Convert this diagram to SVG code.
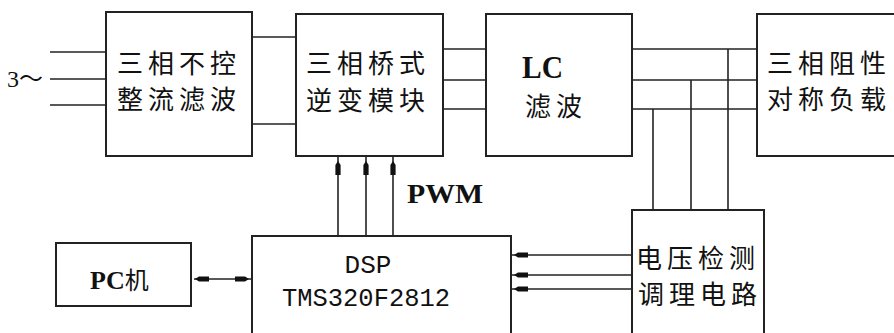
<svg xmlns="http://www.w3.org/2000/svg" xmlns:xlink="http://www.w3.org/1999/xlink" width="894" height="333" viewBox="0 0 894 333">
<style>
.box{fill:#fff;stroke:#222;stroke-width:2}
.ln{stroke:#222;stroke-width:1.6;fill:none}
.cjk{font-family:"Noto Sans CJK SC",sans-serif;font-size:26px;fill:#111;text-anchor:middle;letter-spacing:5px}
.bs{font-family:"Liberation Serif",serif;font-weight:bold;fill:#111}
.mono{font-family:"Liberation Mono",monospace;font-size:26px;fill:#111;text-anchor:middle}
.ah{fill:#111}
</style>
<defs>
<path id="ah" d="M0,0 L-4,-2.6 L-14,-2.6 L-14,2.6 L-4,2.6 Z"/>
</defs>
<g id="connectors">
<line class="ln" x1="50" y1="52" x2="106" y2="52"/>
<line class="ln" x1="50" y1="79" x2="106" y2="79"/>
<line class="ln" x1="50" y1="105" x2="106" y2="105"/>
<line class="ln" x1="252" y1="37" x2="296" y2="37"/>
<line class="ln" x1="252" y1="124" x2="296" y2="124"/>
<line class="ln" x1="443" y1="49" x2="486" y2="49"/>
<line class="ln" x1="443" y1="80" x2="486" y2="80"/>
<line class="ln" x1="443" y1="109" x2="486" y2="109"/>
<line class="ln" x1="632" y1="49" x2="757" y2="49"/>
<line class="ln" x1="632" y1="80" x2="757" y2="80"/>
<line class="ln" x1="632" y1="109" x2="757" y2="109"/>
<line class="ln" x1="728" y1="49" x2="728" y2="210"/>
<line class="ln" x1="691" y1="80" x2="691" y2="210"/>
<line class="ln" x1="653" y1="109" x2="653" y2="210"/>
<line class="ln" x1="338" y1="156" x2="338" y2="236"/>
<line class="ln" x1="366" y1="156" x2="366" y2="236"/>
<line class="ln" x1="393" y1="156" x2="393" y2="236"/>
<line class="ln" x1="194" y1="279" x2="252" y2="279"/>
<line class="ln" x1="511" y1="255" x2="632" y2="255"/>
<line class="ln" x1="511" y1="275" x2="632" y2="275"/>
<line class="ln" x1="511" y1="289" x2="632" y2="289"/>
<g class="ah">
<use xlink:href="#ah" transform="translate(338,161) rotate(-90)"/>
<use xlink:href="#ah" transform="translate(366,161) rotate(-90)"/>
<use xlink:href="#ah" transform="translate(393,161) rotate(-90)"/>
<use xlink:href="#ah" transform="translate(195,279) rotate(180)"/>
<use xlink:href="#ah" transform="translate(249,279)"/>
<use xlink:href="#ah" transform="translate(514,255) rotate(180)"/>
<use xlink:href="#ah" transform="translate(514,275) rotate(180)"/>
<use xlink:href="#ah" transform="translate(514,289) rotate(180)"/>
</g>
<text class="bs" x="407" y="203" font-size="28" textLength="76" lengthAdjust="spacingAndGlyphs">PWM</text>
<text x="7" y="87" font-family="Liberation Serif, Noto Sans CJK SC, serif" font-size="24" fill="#111">3～</text>
</g>
<g id="rectifier">
<rect class="box" x="106" y="12" width="146" height="144"/>
<text class="cjk" x="179" y="73">三相不控</text>
<text class="cjk" x="179" y="109">整流滤波</text>
</g>
<g id="inverter">
<rect class="box" x="296" y="14" width="147" height="142"/>
<text class="cjk" x="368" y="73">三相桥式</text>
<text class="cjk" x="368" y="110">逆变模块</text>
</g>
<g id="lcfilter">
<rect class="box" x="486" y="14" width="146" height="142"/>
<text class="bs" x="522" y="78" font-size="31" textLength="41" lengthAdjust="spacingAndGlyphs">LC</text>
<text class="cjk" x="556" y="116">滤波</text>
</g>
<g id="load">
<rect class="box" x="757" y="14" width="150" height="142"/>
<text class="cjk" x="829" y="73">三相阻性</text>
<text class="cjk" x="829" y="109">对称负载</text>
</g>
<g id="detect">
<rect class="box" x="632" y="210" width="132" height="140"/>
<text class="cjk" x="698" y="268">电压检测</text>
<text class="cjk" x="700" y="304">调理电路</text>
</g>
<g id="dsp">
<rect class="box" x="252" y="236" width="259" height="110"/>
<text class="mono" x="368" y="273">DSP</text>
<text class="mono" x="366" y="306" textLength="168" lengthAdjust="spacingAndGlyphs">TMS320F2812</text>
</g>
<g id="pc">
<rect class="box" x="56" y="243" width="135" height="63"/>
<text x="90" y="289" font-size="26" fill="#111"><tspan font-family="Liberation Serif, serif" font-weight="bold">PC</tspan><tspan font-family="Noto Sans CJK SC, sans-serif" font-size="24">机</tspan></text>
</g>
</svg>
